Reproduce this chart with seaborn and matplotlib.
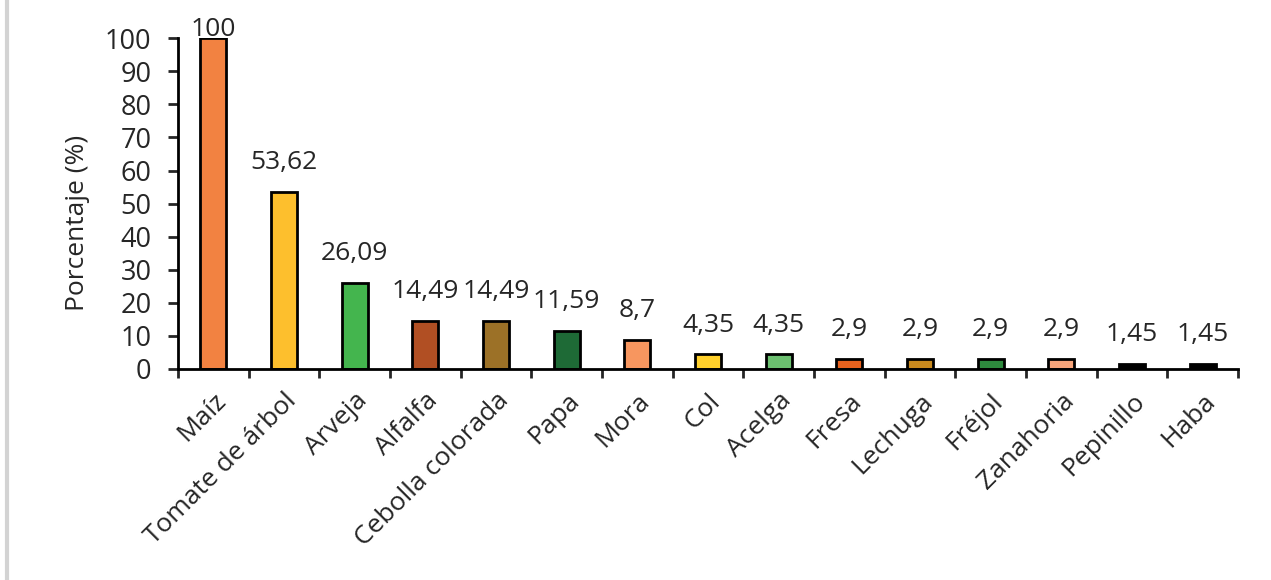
import matplotlib
matplotlib.use("Agg")
import matplotlib.pyplot as plt
import seaborn as sns
import pandas as pd
from matplotlib.lines import Line2D

# Data
cultivos = ["Maíz", "Tomate de árbol", "Arveja", "Alfalfa", "Cebolla colorada",
            "Papa", "Mora", "Col", "Acelga", "Fresa", "Lechuga", "Fréjol",
            "Zanahoria", "Pepinillo", "Haba"]
porcentaje = [100, 53.62, 26.09, 14.49, 14.49, 11.59, 8.7, 4.35, 4.35,
              2.9, 2.9, 2.9, 2.9, 1.45, 1.45]
colores = ["#F28241", "#FDBF2D", "#44B54E", "#B14F23", "#9C7127", "#1E6A36",
           "#F7965F", "#FFD02B", "#6CC070", "#E9621E", "#C98A1E", "#2E8A3E",
           "#F7A47A", "#000000", "#000000"]

df = pd.DataFrame({"Cultivo": cultivos, "Porcentaje": porcentaje})

sns.set_style("white")
plt.rcParams["font.family"] = ["Open Sans", "DejaVu Sans"]

fig = plt.figure(figsize=(12.71, 5.8), dpi=100)
ax = fig.add_axes([0.140, 0.364, 0.834, 0.570])

sns.barplot(data=df, x="Cultivo", y="Porcentaje", hue="Cultivo",
            palette=colores, legend=False, width=0.37,
            edgecolor="black", linewidth=2, ax=ax, saturation=1)

ax.set_ylim(0, 100)
ax.set_xlim(-0.5, len(cultivos) - 0.5)
ax.set_yticks(range(0, 101, 10))
ax.tick_params(axis="y", labelsize=19.5, length=7, width=2, direction="out",
               left=True, pad=12)

# labels at bar centres, tick marks at category boundaries (Excel style)
ax.set_xticks(range(len(cultivos)))
ax.set_xticklabels(cultivos, rotation=45, ha="right", rotation_mode="anchor",
                   fontsize=19)
ax.tick_params(axis="x", which="major", length=0, pad=14)
ax.set_xticks([i - 0.5 for i in range(len(cultivos) + 1)], minor=True)
ax.tick_params(axis="x", which="minor", length=6.5, width=2, direction="out",
               bottom=True)

for s in ["top", "right"]:
    ax.spines[s].set_visible(False)
for s in ["left", "bottom"]:
    ax.spines[s].set_linewidth(2)
    ax.spines[s].set_color("black")

ax.set_xlabel("")
ax.set_ylabel("Porcentaje (%)", fontsize=19)
ax.yaxis.set_label_coords(-0.083, 0.44)

# value labels
for i, v in enumerate(porcentaje):
    txt = ("%g" % v).replace(".", ",")
    off = 1.5 if v >= 99 else 16.5
    ax.annotate(txt, (i, v), xytext=(0, off), textcoords="offset points",
                ha="center", va="baseline", fontsize=19, annotation_clip=False)

# page border line at the left
fig.add_artist(Line2D([0.0055, 0.0055], [0, 1], color="#D3D3D3", linewidth=3,
                      transform=fig.transFigure))

fig.savefig("out.png", dpi=100, facecolor="white")
